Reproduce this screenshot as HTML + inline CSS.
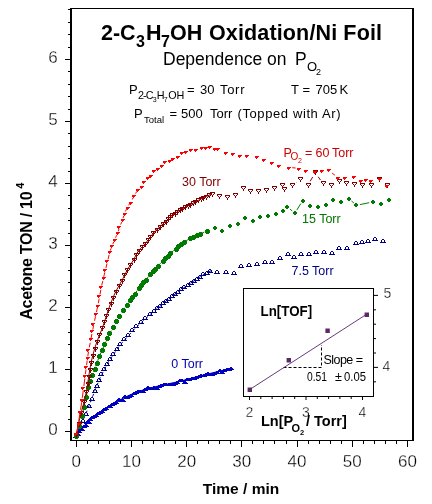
<!DOCTYPE html>
<html><head><meta charset="utf-8"><style>
html,body{margin:0;padding:0;background:#fff;width:432px;height:504px;overflow:hidden}
svg{display:block;will-change:transform}
text{font-family:"Liberation Sans",sans-serif}
</style></head><body>
<svg width="432" height="504" viewBox="0 0 432 504">
<rect width="432" height="504" fill="#fff"/>
<path d="M76.3 435.5 L83.4 427.0 L90.1 420.1 L96.8 414.6 L103.8 409.8 L110.7 405.3 L117.8 401.0 L125.6 397.0 L134.2 393.2 L143.8 389.9 L154.2 387.1 L165.3 384.6 L176.7 382.1 L188.6 379.2 L201.7 375.7 L216.2 372.0 L231.9 368.4" fill="none" stroke="#0000c0" stroke-width="1.2"/>
<path d="M75 435h6v1h-6zM76 434h4v1h-4zM77 433h2v1h-2zM76 432h6v1h-6zM77 431h4v1h-4zM78 430h2v1h-2zM78 430h6v1h-6zM79 429h4v1h-4zM80 428h2v1h-2zM79 430h6v1h-6zM80 429h4v1h-4zM81 428h2v1h-2zM81 427h6v1h-6zM82 426h4v1h-4zM83 425h2v1h-2zM83 426h6v1h-6zM84 425h4v1h-4zM85 424h2v1h-2zM84 423h6v1h-6zM85 422h4v1h-4zM86 421h2v1h-2zM86 423h6v1h-6zM87 422h4v1h-4zM88 421h2v1h-2zM87 420h6v1h-6zM88 419h4v1h-4zM89 418h2v1h-2zM89 418h6v1h-6zM90 417h4v1h-4zM91 416h2v1h-2zM91 417h6v1h-6zM92 416h4v1h-4zM93 415h2v1h-2zM93 416h6v1h-6zM94 415h4v1h-4zM95 414h2v1h-2zM95 414h6v1h-6zM96 413h4v1h-4zM97 412h2v1h-2zM97 413h6v1h-6zM98 412h4v1h-4zM99 411h2v1h-2zM99 412h6v1h-6zM100 411h4v1h-4zM101 410h2v1h-2zM101 410h6v1h-6zM102 409h4v1h-4zM103 408h2v1h-2zM103 409h6v1h-6zM104 408h4v1h-4zM105 407h2v1h-2zM106 407h6v1h-6zM107 406h4v1h-4zM108 405h2v1h-2zM107 407h6v1h-6zM108 406h4v1h-4zM109 405h2v1h-2zM109 405h6v1h-6zM110 404h4v1h-4zM111 403h2v1h-2zM111 404h6v1h-6zM112 403h4v1h-4zM113 402h2v1h-2zM113 403h6v1h-6zM114 402h4v1h-4zM115 401h2v1h-2zM116 400h6v1h-6zM117 399h4v1h-4zM118 398h2v1h-2zM118 401h6v1h-6zM119 400h4v1h-4zM120 399h2v1h-2zM120 401h6v1h-6zM121 400h4v1h-4zM122 399h2v1h-2zM122 397h6v1h-6zM123 396h4v1h-4zM124 395h2v1h-2zM124 398h6v1h-6zM125 397h4v1h-4zM126 396h2v1h-2zM126 397h6v1h-6zM127 396h4v1h-4zM128 395h2v1h-2zM128 396h6v1h-6zM129 395h4v1h-4zM130 394h2v1h-2zM131 394h6v1h-6zM132 393h4v1h-4zM133 392h2v1h-2zM133 393h6v1h-6zM134 392h4v1h-4zM135 391h2v1h-2zM135 392h6v1h-6zM136 391h4v1h-4zM137 390h2v1h-2zM137 392h6v1h-6zM138 391h4v1h-4zM139 390h2v1h-2zM140 392h6v1h-6zM141 391h4v1h-4zM142 390h2v1h-2zM142 390h6v1h-6zM143 389h4v1h-4zM144 388h2v1h-2zM145 388h6v1h-6zM146 387h4v1h-4zM147 386h2v1h-2zM147 389h6v1h-6zM148 388h4v1h-4zM149 387h2v1h-2zM149 389h6v1h-6zM150 388h4v1h-4zM151 387h2v1h-2zM151 388h6v1h-6zM152 387h4v1h-4zM153 386h2v1h-2zM154 389h6v1h-6zM155 388h4v1h-4zM156 387h2v1h-2zM156 387h6v1h-6zM157 386h4v1h-4zM158 385h2v1h-2zM158 386h6v1h-6zM159 385h4v1h-4zM160 384h2v1h-2zM161 385h6v1h-6zM162 384h4v1h-4zM163 383h2v1h-2zM163 385h6v1h-6zM164 384h4v1h-4zM165 383h2v1h-2zM166 385h6v1h-6zM167 384h4v1h-4zM168 383h2v1h-2zM168 385h6v1h-6zM169 384h4v1h-4zM170 383h2v1h-2zM170 385h6v1h-6zM171 384h4v1h-4zM172 383h2v1h-2zM172 384h6v1h-6zM173 383h4v1h-4zM174 382h2v1h-2zM174 383h6v1h-6zM175 382h4v1h-4zM176 381h2v1h-2zM177 381h6v1h-6zM178 380h4v1h-4zM179 379h2v1h-2zM179 381h6v1h-6zM180 380h4v1h-4zM181 379h2v1h-2zM182 383h6v1h-6zM183 382h4v1h-4zM184 381h2v1h-2zM184 380h6v1h-6zM185 379h4v1h-4zM186 378h2v1h-2zM186 380h6v1h-6zM187 379h4v1h-4zM188 378h2v1h-2zM189 379h6v1h-6zM190 378h4v1h-4zM191 377h2v1h-2zM191 379h6v1h-6zM192 378h4v1h-4zM193 377h2v1h-2zM193 378h6v1h-6zM194 377h4v1h-4zM195 376h2v1h-2zM196 377h6v1h-6zM197 376h4v1h-4zM198 375h2v1h-2zM198 376h6v1h-6zM199 375h4v1h-4zM200 374h2v1h-2zM201 376h6v1h-6zM202 375h4v1h-4zM203 374h2v1h-2zM203 375h6v1h-6zM204 374h4v1h-4zM205 373h2v1h-2zM205 374h6v1h-6zM206 373h4v1h-4zM207 372h2v1h-2zM207 375h6v1h-6zM208 374h4v1h-4zM209 373h2v1h-2zM209 375h6v1h-6zM210 374h4v1h-4zM211 373h2v1h-2zM211 374h6v1h-6zM212 373h4v1h-4zM213 372h2v1h-2zM214 373h6v1h-6zM215 372h4v1h-4zM216 371h2v1h-2zM217 371h6v1h-6zM218 370h4v1h-4zM219 369h2v1h-2zM219 373h6v1h-6zM220 372h4v1h-4zM221 371h2v1h-2zM221 371h6v1h-6zM222 370h4v1h-4zM223 369h2v1h-2zM224 370h6v1h-6zM225 369h4v1h-4zM226 368h2v1h-2zM226 370h6v1h-6zM227 369h4v1h-4zM228 368h2v1h-2zM228 369h6v1h-6zM229 368h4v1h-4zM230 367h2v1h-2z" fill="#0000c0" shape-rendering="crispEdges"/>
<path d="M76.3 435.5 L82.3 421.9 L86.5 412.2 L88.9 405.9 L90.9 400.9 L93.0 395.5 L95.9 387.9 L100.7 376.4 L108.7 361.3 L120.4 344.5 L135.4 327.9 L152.1 312.7 L167.5 300.1 L179.2 291.0 L188.1 284.8 L195.7 279.8 L202.0 275.5 L207.1 272.5 L211.6 270.5" fill="none" stroke="#000080" stroke-width="1" stroke-dasharray="3 3"/>
<path d="M75 434h2v1h-2zM74 435h1v2h-1zM77 435h1v2h-1zM73 437h6v1h-6zM79 426h2v1h-2zM78 427h1v2h-1zM81 427h1v2h-1zM77 429h6v1h-6zM82 419h2v1h-2zM81 420h1v2h-1zM84 420h1v2h-1zM80 422h6v1h-6zM85 412h2v1h-2zM84 413h1v2h-1zM87 413h1v2h-1zM83 415h6v1h-6zM88 404h2v1h-2zM87 405h1v2h-1zM90 405h1v2h-1zM86 407h6v1h-6zM91 397h2v1h-2zM90 398h1v2h-1zM93 398h1v2h-1zM89 400h6v1h-6zM94 389h2v1h-2zM93 390h1v2h-1zM96 390h1v2h-1zM92 392h6v1h-6zM96 384h2v1h-2zM95 385h1v2h-1zM98 385h1v2h-1zM94 387h6v1h-6zM98 378h2v1h-2zM97 379h1v2h-1zM100 379h1v2h-1zM96 381h6v1h-6zM100 372h2v1h-2zM99 373h1v2h-1zM102 373h1v2h-1zM98 375h6v1h-6zM103 367h2v1h-2zM102 368h1v2h-1zM105 368h1v2h-1zM101 370h6v1h-6zM106 362h2v1h-2zM105 363h1v2h-1zM108 363h1v2h-1zM104 365h6v1h-6zM109 357h2v1h-2zM108 358h1v2h-1zM111 358h1v2h-1zM107 360h6v1h-6zM112 352h2v1h-2zM111 353h1v2h-1zM114 353h1v2h-1zM110 355h6v1h-6zM116 347h2v1h-2zM115 348h1v2h-1zM118 348h1v2h-1zM114 350h6v1h-6zM119 342h2v1h-2zM118 343h1v2h-1zM121 343h1v2h-1zM117 345h6v1h-6zM123 337h2v1h-2zM122 338h1v2h-1zM125 338h1v2h-1zM121 340h6v1h-6zM127 333h2v1h-2zM126 334h1v2h-1zM129 334h1v2h-1zM125 336h6v1h-6zM131 328h2v1h-2zM130 329h1v2h-1zM133 329h1v2h-1zM129 331h6v1h-6zM135 324h2v1h-2zM134 325h1v2h-1zM137 325h1v2h-1zM133 327h6v1h-6zM140 320h2v1h-2zM139 321h1v2h-1zM142 321h1v2h-1zM138 323h6v1h-6zM144 316h2v1h-2zM143 317h1v2h-1zM146 317h1v2h-1zM142 319h6v1h-6zM149 312h2v1h-2zM148 313h1v2h-1zM151 313h1v2h-1zM147 315h6v1h-6zM153 309h2v1h-2zM152 310h1v2h-1zM155 310h1v2h-1zM151 312h6v1h-6zM156 306h2v1h-2zM155 307h1v2h-1zM158 307h1v2h-1zM154 309h6v1h-6zM159 304h2v1h-2zM158 305h1v2h-1zM161 305h1v2h-1zM157 307h6v1h-6zM162 301h2v1h-2zM161 302h1v2h-1zM164 302h1v2h-1zM160 304h6v1h-6zM165 299h2v1h-2zM164 300h1v2h-1zM167 300h1v2h-1zM163 302h6v1h-6zM168 297h2v1h-2zM167 298h1v2h-1zM170 298h1v2h-1zM166 300h6v1h-6zM171 294h2v1h-2zM170 295h1v2h-1zM173 295h1v2h-1zM169 297h6v1h-6zM174 292h2v1h-2zM173 293h1v2h-1zM176 293h1v2h-1zM172 295h6v1h-6zM177 290h2v1h-2zM176 291h1v2h-1zM179 291h1v2h-1zM175 293h6v1h-6zM180 287h2v1h-2zM179 288h1v2h-1zM182 288h1v2h-1zM178 290h6v1h-6zM183 285h2v1h-2zM182 286h1v2h-1zM185 286h1v2h-1zM181 288h6v1h-6zM187 283h2v1h-2zM186 284h1v2h-1zM189 284h1v2h-1zM185 286h6v1h-6zM190 281h2v1h-2zM189 282h1v2h-1zM192 282h1v2h-1zM188 284h6v1h-6zM193 279h2v1h-2zM192 280h1v2h-1zM195 280h1v2h-1zM191 282h6v1h-6zM196 277h2v1h-2zM195 278h1v2h-1zM198 278h1v2h-1zM194 280h6v1h-6zM199 275h2v1h-2zM198 276h1v2h-1zM201 276h1v2h-1zM197 278h6v1h-6zM202 272h2v1h-2zM201 273h1v2h-1zM204 273h1v2h-1zM200 275h6v1h-6zM206 271h2v1h-2zM205 272h1v2h-1zM208 272h1v2h-1zM204 274h6v1h-6zM209 269h2v1h-2zM208 270h1v2h-1zM211 270h1v2h-1zM207 272h6v1h-6zM216 270h2v1h-2zM215 271h1v2h-1zM218 271h1v2h-1zM214 273h6v1h-6zM225 270h2v1h-2zM224 271h1v2h-1zM227 271h1v2h-1zM223 273h6v1h-6zM233 271h2v1h-2zM232 272h1v2h-1zM235 272h1v2h-1zM231 274h6v1h-6zM240 264h2v1h-2zM239 265h1v2h-1zM242 265h1v2h-1zM238 267h6v1h-6zM248 263h2v1h-2zM247 264h1v2h-1zM250 264h1v2h-1zM246 266h6v1h-6zM256 262h2v1h-2zM255 263h1v2h-1zM258 263h1v2h-1zM254 265h6v1h-6zM264 260h2v1h-2zM263 261h1v2h-1zM266 261h1v2h-1zM262 263h6v1h-6zM271 260h2v1h-2zM270 261h1v2h-1zM273 261h1v2h-1zM269 263h6v1h-6zM279 256h2v1h-2zM278 257h1v2h-1zM281 257h1v2h-1zM277 259h6v1h-6zM287 252h2v1h-2zM286 253h1v2h-1zM289 253h1v2h-1zM285 255h6v1h-6zM293 255h2v1h-2zM292 256h1v2h-1zM295 256h1v2h-1zM291 258h6v1h-6zM300 252h2v1h-2zM299 253h1v2h-1zM302 253h1v2h-1zM298 255h6v1h-6zM308 252h2v1h-2zM307 253h1v2h-1zM310 253h1v2h-1zM306 255h6v1h-6zM315 250h2v1h-2zM314 251h1v2h-1zM317 251h1v2h-1zM313 253h6v1h-6zM323 250h2v1h-2zM322 251h1v2h-1zM325 251h1v2h-1zM321 253h6v1h-6zM331 251h2v1h-2zM330 252h1v2h-1zM333 252h1v2h-1zM329 254h6v1h-6zM338 246h2v1h-2zM337 247h1v2h-1zM340 247h1v2h-1zM336 249h6v1h-6zM346 246h2v1h-2zM345 247h1v2h-1zM348 247h1v2h-1zM344 249h6v1h-6zM355 241h2v1h-2zM354 242h1v2h-1zM357 242h1v2h-1zM353 244h6v1h-6zM361 240h2v1h-2zM360 241h1v2h-1zM363 241h1v2h-1zM359 243h6v1h-6zM367 239h2v1h-2zM366 240h1v2h-1zM369 240h1v2h-1zM365 242h6v1h-6zM374 237h2v1h-2zM373 238h1v2h-1zM376 238h1v2h-1zM372 240h6v1h-6zM382 239h2v1h-2zM381 240h1v2h-1zM384 240h1v2h-1zM380 242h6v1h-6z" fill="#000080" shape-rendering="crispEdges"/>
<path d="M76.3 435.5 L80.5 420.8 L83.7 409.0 L85.7 399.4 L87.5 390.3 L90.1 381.2 L94.3 369.4 L100.9 352.6 L110.1 332.8 L120.6 314.1 L130.5 299.5 L139.1 288.1 L148.6 276.4 L160.0 263.8 L171.4 252.5 L181.1 244.2 L188.8 239.1 L195.2 236.0 L201.6 233.3 L208.9 230.0" fill="none" stroke="#008000" stroke-width="1" stroke-dasharray="3 3"/>
<path d="M289.9 209.1L292.2 210.9 M296.8 210.1L300.8 203.6 M351.5 201.0L353.9 203.0 M359.9 204.6L369.2 202.7" fill="none" stroke="#008000" stroke-width="1"/>
<path d="M75 434h3v1h-3zM74 435h5v3h-5zM75 438h3v1h-3zM78 424h3v1h-3zM77 425h5v3h-5zM78 428h3v1h-3zM81 414h3v1h-3zM80 415h5v3h-5zM81 418h3v1h-3zM83 405h3v1h-3zM82 406h5v3h-5zM83 409h3v1h-3zM85 395h3v1h-3zM84 396h5v3h-5zM85 399h3v1h-3zM87 385h3v1h-3zM86 386h5v3h-5zM87 389h3v1h-3zM89 379h3v1h-3zM88 380h5v3h-5zM89 383h3v1h-3zM91 373h3v1h-3zM90 374h5v3h-5zM91 377h3v1h-3zM94 367h3v1h-3zM93 368h5v3h-5zM94 371h3v1h-3zM96 361h3v1h-3zM95 362h5v3h-5zM96 365h3v1h-3zM98 354h3v1h-3zM97 355h5v3h-5zM98 358h3v1h-3zM101 348h3v1h-3zM100 349h5v3h-5zM101 352h3v1h-3zM103 342h3v1h-3zM102 343h5v3h-5zM103 346h3v1h-3zM106 336h3v1h-3zM105 337h5v3h-5zM106 340h3v1h-3zM108 331h3v1h-3zM107 332h5v3h-5zM108 335h3v1h-3zM112 325h3v1h-3zM111 326h5v3h-5zM112 329h3v1h-3zM115 319h3v1h-3zM114 320h5v3h-5zM115 323h3v1h-3zM118 314h3v1h-3zM117 315h5v3h-5zM118 318h3v1h-3zM122 308h3v1h-3zM121 309h5v3h-5zM122 312h3v1h-3zM126 303h3v1h-3zM125 304h5v3h-5zM126 307h3v1h-3zM129 298h3v1h-3zM128 299h5v3h-5zM129 302h3v1h-3zM131 295h3v1h-3zM130 296h5v3h-5zM131 299h3v1h-3zM134 292h3v1h-3zM133 293h5v3h-5zM134 296h3v1h-3zM138 286h3v1h-3zM137 287h5v3h-5zM138 290h3v1h-3zM140 283h3v1h-3zM139 284h5v3h-5zM140 287h3v1h-3zM142 280h3v1h-3zM141 281h5v3h-5zM142 284h3v1h-3zM145 278h3v1h-3zM144 279h5v3h-5zM145 282h3v1h-3zM149 272h3v1h-3zM148 273h5v3h-5zM149 276h3v1h-3zM152 269h3v1h-3zM151 270h5v3h-5zM152 273h3v1h-3zM154 267h3v1h-3zM153 268h5v3h-5zM154 271h3v1h-3zM157 264h3v1h-3zM156 265h5v3h-5zM157 268h3v1h-3zM162 259h3v1h-3zM161 260h5v3h-5zM162 263h3v1h-3zM164 256h3v1h-3zM163 257h5v3h-5zM164 260h3v1h-3zM167 254h3v1h-3zM166 255h5v3h-5zM167 258h3v1h-3zM169 251h3v1h-3zM168 252h5v3h-5zM169 255h3v1h-3zM175 247h3v1h-3zM174 248h5v3h-5zM175 251h3v1h-3zM177 244h3v1h-3zM176 245h5v3h-5zM177 248h3v1h-3zM180 242h3v1h-3zM179 243h5v3h-5zM180 246h3v1h-3zM183 240h3v1h-3zM182 241h5v3h-5zM183 244h3v1h-3zM189 236h3v1h-3zM188 237h5v3h-5zM189 240h3v1h-3zM192 235h3v1h-3zM191 236h5v3h-5zM192 239h3v1h-3zM196 233h3v1h-3zM195 234h5v3h-5zM196 237h3v1h-3zM199 232h3v1h-3zM198 233h5v3h-5zM199 236h3v1h-3zM206 229h3v1h-3zM205 230h5v3h-5zM206 233h3v1h-3zM214 226h2v1h-2zM213 227h4v2h-4zM214 229h2v1h-2zM221 229h2v1h-2zM220 230h4v2h-4zM221 232h2v1h-2zM229 224h2v1h-2zM228 225h4v2h-4zM229 227h2v1h-2zM237 222h2v1h-2zM236 223h4v2h-4zM237 225h2v1h-2zM244 216h2v1h-2zM243 217h4v2h-4zM244 219h2v1h-2zM252 219h2v1h-2zM251 220h4v2h-4zM252 222h2v1h-2zM259 215h2v1h-2zM258 216h4v2h-4zM259 218h2v1h-2zM267 214h2v1h-2zM266 215h4v2h-4zM267 217h2v1h-2zM275 212h2v1h-2zM274 213h4v2h-4zM275 215h2v1h-2zM282 209h2v1h-2zM281 210h4v2h-4zM282 212h2v1h-2zM286 205h2v1h-2zM285 206h4v2h-4zM286 208h2v1h-2zM294 211h2v1h-2zM293 212h4v2h-4zM294 214h2v1h-2zM302 199h2v1h-2zM301 200h4v2h-4zM302 202h2v1h-2zM309 204h2v1h-2zM308 205h4v2h-4zM309 207h2v1h-2zM317 205h2v1h-2zM316 206h4v2h-4zM317 208h2v1h-2zM325 203h2v1h-2zM324 204h4v2h-4zM325 206h2v1h-2zM332 198h2v1h-2zM331 199h4v2h-4zM332 201h2v1h-2zM340 200h2v1h-2zM339 201h4v2h-4zM340 203h2v1h-2zM348 197h2v1h-2zM347 198h4v2h-4zM348 200h2v1h-2zM355 203h2v1h-2zM354 204h4v2h-4zM355 206h2v1h-2zM372 200h2v1h-2zM371 201h4v2h-4zM372 203h2v1h-2zM380 202h2v1h-2zM379 203h4v2h-4zM380 205h2v1h-2zM388 198h2v1h-2zM387 199h4v2h-4zM388 201h2v1h-2z" fill="#007a00" shape-rendering="crispEdges"/>
<path d="M76.3 434.5 L78.5 423.7 L81.0 413.0 L84.0 402.4 L86.4 391.7 L87.5 384.5 L88.6 377.3 L89.7 370.1 L91.0 362.9 L92.7 355.8 L94.6 348.7 L96.9 341.8 L99.5 335.0 L102.3 328.2 L104.4 322.1 L106.4 315.9 L108.4 309.7 L110.6 303.6 L113.0 297.6 L115.7 291.6 L118.8 286.0 L121.8 280.7 L124.5 275.4 L127.2 270.1 L130.3 264.9 L133.6 259.9 L136.2 254.5 L138.7 250.6 L141.8 247.3 L144.9 243.9 L147.9 240.4 L150.5 236.6 L153.4 233.1 L156.7 229.9 L159.9 226.6 L163.4 223.6 L165.6 221.5 L167.8 219.4 L169.9 217.3 L172.2 215.4 L174.6 213.6 L177.0 211.9 L179.6 210.3 L182.2 208.9 L184.9 207.5 L187.5 206.1 L190.2 204.7 L192.8 203.3 L195.5 201.9 L198.1 200.5 L200.8 199.0 L203.5 197.8 L206.2 196.5 L208.9 195.3 L211.5 193.8 M296.1 182.7L296.4 182.6 M310.2 181.2L312.7 177.0 M318.2 176.8L320.5 180.1" fill="none" stroke="#800000" stroke-width="1"/>
<path d="M74 433h5v1h-5zM74 434h1v1h-1zM78 434h1v1h-1zM75 435h1v1h-1zM77 435h1v1h-1zM76 436h1v2h-1zM76 434h1v2h-1zM77 422h5v1h-5zM77 423h1v1h-1zM81 423h1v1h-1zM78 424h1v1h-1zM80 424h1v1h-1zM79 425h1v2h-1zM79 423h1v2h-1zM79 411h5v1h-5zM79 412h1v1h-1zM83 412h1v1h-1zM80 413h1v1h-1zM82 413h1v1h-1zM81 414h1v2h-1zM81 412h1v2h-1zM82 400h5v1h-5zM82 401h1v1h-1zM86 401h1v1h-1zM83 402h1v1h-1zM85 402h1v1h-1zM84 403h1v2h-1zM84 401h1v2h-1zM84 390h5v1h-5zM84 391h1v1h-1zM88 391h1v1h-1zM85 392h1v1h-1zM87 392h1v1h-1zM86 393h1v2h-1zM86 391h1v2h-1zM86 382h5v1h-5zM86 383h1v1h-1zM90 383h1v1h-1zM87 384h1v1h-1zM89 384h1v1h-1zM88 385h1v2h-1zM88 383h1v2h-1zM87 375h5v1h-5zM87 376h1v1h-1zM91 376h1v1h-1zM88 377h1v1h-1zM90 377h1v1h-1zM89 378h1v2h-1zM89 376h1v2h-1zM88 368h5v1h-5zM88 369h1v1h-1zM92 369h1v1h-1zM89 370h1v1h-1zM91 370h1v1h-1zM90 371h1v2h-1zM90 369h1v2h-1zM89 361h5v1h-5zM89 362h1v1h-1zM93 362h1v1h-1zM90 363h1v1h-1zM92 363h1v1h-1zM91 364h1v2h-1zM91 362h1v2h-1zM91 354h5v1h-5zM91 355h1v1h-1zM95 355h1v1h-1zM92 356h1v1h-1zM94 356h1v1h-1zM93 357h1v2h-1zM93 355h1v2h-1zM93 347h5v1h-5zM93 348h1v1h-1zM97 348h1v1h-1zM94 349h1v1h-1zM96 349h1v1h-1zM95 350h1v2h-1zM95 348h1v2h-1zM95 340h5v1h-5zM95 341h1v1h-1zM99 341h1v1h-1zM96 342h1v1h-1zM98 342h1v1h-1zM97 343h1v2h-1zM97 341h1v2h-1zM97 333h5v1h-5zM97 334h1v1h-1zM101 334h1v1h-1zM98 335h1v1h-1zM100 335h1v1h-1zM99 336h1v2h-1zM99 334h1v2h-1zM100 326h5v1h-5zM100 327h1v1h-1zM104 327h1v1h-1zM101 328h1v1h-1zM103 328h1v1h-1zM102 329h1v2h-1zM102 327h1v2h-1zM102 320h5v1h-5zM102 321h1v1h-1zM106 321h1v1h-1zM103 322h1v1h-1zM105 322h1v1h-1zM104 323h1v2h-1zM104 321h1v2h-1zM104 314h5v1h-5zM104 315h1v1h-1zM108 315h1v1h-1zM105 316h1v1h-1zM107 316h1v1h-1zM106 317h1v2h-1zM106 315h1v2h-1zM106 308h5v1h-5zM106 309h1v1h-1zM110 309h1v1h-1zM107 310h1v1h-1zM109 310h1v1h-1zM108 311h1v2h-1zM108 309h1v2h-1zM109 302h5v1h-5zM109 303h1v1h-1zM113 303h1v1h-1zM110 304h1v1h-1zM112 304h1v1h-1zM111 305h1v2h-1zM111 303h1v2h-1zM111 296h5v1h-5zM111 297h1v1h-1zM115 297h1v1h-1zM112 298h1v1h-1zM114 298h1v1h-1zM113 299h1v2h-1zM113 297h1v2h-1zM114 290h5v1h-5zM114 291h1v1h-1zM118 291h1v1h-1zM115 292h1v1h-1zM117 292h1v1h-1zM116 293h1v2h-1zM116 291h1v2h-1zM117 284h5v1h-5zM117 285h1v1h-1zM121 285h1v1h-1zM118 286h1v1h-1zM120 286h1v1h-1zM119 287h1v2h-1zM119 285h1v2h-1zM120 279h5v1h-5zM120 280h1v1h-1zM124 280h1v1h-1zM121 281h1v1h-1zM123 281h1v1h-1zM122 282h1v2h-1zM122 280h1v2h-1zM122 273h5v1h-5zM122 274h1v1h-1zM126 274h1v1h-1zM123 275h1v1h-1zM125 275h1v1h-1zM124 276h1v2h-1zM124 274h1v2h-1zM125 268h5v1h-5zM125 269h1v1h-1zM129 269h1v1h-1zM126 270h1v1h-1zM128 270h1v1h-1zM127 271h1v2h-1zM127 269h1v2h-1zM128 263h5v1h-5zM128 264h1v1h-1zM132 264h1v1h-1zM129 265h1v1h-1zM131 265h1v1h-1zM130 266h1v2h-1zM130 264h1v2h-1zM132 258h5v1h-5zM132 259h1v1h-1zM136 259h1v1h-1zM133 260h1v1h-1zM135 260h1v1h-1zM134 261h1v2h-1zM134 259h1v2h-1zM134 253h5v1h-5zM134 254h1v1h-1zM138 254h1v1h-1zM135 255h1v1h-1zM137 255h1v1h-1zM136 256h1v2h-1zM136 254h1v2h-1zM137 249h5v1h-5zM137 250h1v1h-1zM141 250h1v1h-1zM138 251h1v1h-1zM140 251h1v1h-1zM139 252h1v2h-1zM139 250h1v2h-1zM140 245h5v1h-5zM140 246h1v1h-1zM144 246h1v1h-1zM141 247h1v1h-1zM143 247h1v1h-1zM142 248h1v2h-1zM142 246h1v2h-1zM143 242h5v1h-5zM143 243h1v1h-1zM147 243h1v1h-1zM144 244h1v1h-1zM146 244h1v1h-1zM145 245h1v2h-1zM145 243h1v2h-1zM146 238h5v1h-5zM146 239h1v1h-1zM150 239h1v1h-1zM147 240h1v1h-1zM149 240h1v1h-1zM148 241h1v2h-1zM148 239h1v2h-1zM148 235h5v1h-5zM148 236h1v1h-1zM152 236h1v1h-1zM149 237h1v1h-1zM151 237h1v1h-1zM150 238h1v2h-1zM150 236h1v2h-1zM151 231h5v1h-5zM151 232h1v1h-1zM155 232h1v1h-1zM152 233h1v1h-1zM154 233h1v1h-1zM153 234h1v2h-1zM153 232h1v2h-1zM155 228h5v1h-5zM155 229h1v1h-1zM159 229h1v1h-1zM156 230h1v1h-1zM158 230h1v1h-1zM157 231h1v2h-1zM157 229h1v2h-1zM158 225h5v1h-5zM158 226h1v1h-1zM162 226h1v1h-1zM159 227h1v1h-1zM161 227h1v1h-1zM160 228h1v2h-1zM160 226h1v2h-1zM161 222h5v1h-5zM161 223h1v1h-1zM165 223h1v1h-1zM162 224h1v1h-1zM164 224h1v1h-1zM163 225h1v2h-1zM163 223h1v2h-1zM164 220h5v1h-5zM164 221h1v1h-1zM168 221h1v1h-1zM165 222h1v1h-1zM167 222h1v1h-1zM166 223h1v2h-1zM166 221h1v2h-1zM166 217h5v1h-5zM166 218h1v1h-1zM170 218h1v1h-1zM167 219h1v1h-1zM169 219h1v1h-1zM168 220h1v2h-1zM168 218h1v2h-1zM168 215h5v1h-5zM168 216h1v1h-1zM172 216h1v1h-1zM169 217h1v1h-1zM171 217h1v1h-1zM170 218h1v2h-1zM170 216h1v2h-1zM170 213h5v1h-5zM170 214h1v1h-1zM174 214h1v1h-1zM171 215h1v1h-1zM173 215h1v1h-1zM172 216h1v2h-1zM172 214h1v2h-1zM173 212h5v1h-5zM173 213h1v1h-1zM177 213h1v1h-1zM174 214h1v1h-1zM176 214h1v1h-1zM175 215h1v2h-1zM175 213h1v2h-1zM175 210h5v1h-5zM175 211h1v1h-1zM179 211h1v1h-1zM176 212h1v1h-1zM178 212h1v1h-1zM177 213h1v2h-1zM177 211h1v2h-1zM178 208h5v1h-5zM178 209h1v1h-1zM182 209h1v1h-1zM179 210h1v1h-1zM181 210h1v1h-1zM180 211h1v2h-1zM180 209h1v2h-1zM180 207h5v1h-5zM180 208h1v1h-1zM184 208h1v1h-1zM181 209h1v1h-1zM183 209h1v1h-1zM182 210h1v2h-1zM182 208h1v2h-1zM183 205h5v1h-5zM183 206h1v1h-1zM187 206h1v1h-1zM184 207h1v1h-1zM186 207h1v1h-1zM185 208h1v2h-1zM185 206h1v2h-1zM186 204h5v1h-5zM186 205h1v1h-1zM190 205h1v1h-1zM187 206h1v1h-1zM189 206h1v1h-1zM188 207h1v2h-1zM188 203h5v1h-5zM188 204h1v1h-1zM192 204h1v1h-1zM189 205h1v1h-1zM191 205h1v1h-1zM190 206h1v2h-1zM191 201h5v1h-5zM191 202h1v1h-1zM195 202h1v1h-1zM192 203h1v1h-1zM194 203h1v1h-1zM193 204h1v2h-1zM193 200h5v1h-5zM193 201h1v1h-1zM197 201h1v1h-1zM194 202h1v1h-1zM196 202h1v1h-1zM195 203h1v2h-1zM196 198h5v1h-5zM196 199h1v1h-1zM200 199h1v1h-1zM197 200h1v1h-1zM199 200h1v1h-1zM198 201h1v2h-1zM199 197h5v1h-5zM199 198h1v1h-1zM203 198h1v1h-1zM200 199h1v1h-1zM202 199h1v1h-1zM201 200h1v2h-1zM201 196h5v1h-5zM201 197h1v1h-1zM205 197h1v1h-1zM202 198h1v1h-1zM204 198h1v1h-1zM203 199h1v2h-1zM204 195h5v1h-5zM204 196h1v1h-1zM208 196h1v1h-1zM205 197h1v1h-1zM207 197h1v1h-1zM206 198h1v2h-1zM207 193h5v1h-5zM207 194h1v1h-1zM211 194h1v1h-1zM208 195h1v1h-1zM210 195h1v1h-1zM209 196h1v2h-1zM210 192h5v1h-5zM210 193h1v1h-1zM214 193h1v1h-1zM211 194h1v1h-1zM213 194h1v1h-1zM212 195h1v2h-1zM217 194h5v1h-5zM217 195h1v1h-1zM221 195h1v1h-1zM218 196h1v1h-1zM220 196h1v1h-1zM219 197h1v2h-1zM225 195h5v1h-5zM225 196h1v1h-1zM229 196h1v1h-1zM226 197h1v1h-1zM228 197h1v1h-1zM227 198h1v2h-1zM233 193h5v1h-5zM233 194h1v1h-1zM237 194h1v1h-1zM234 195h1v1h-1zM236 195h1v1h-1zM235 196h1v2h-1zM241 186h5v1h-5zM241 187h1v1h-1zM245 187h1v1h-1zM242 188h1v1h-1zM244 188h1v1h-1zM243 189h1v2h-1zM248 189h5v1h-5zM248 190h1v1h-1zM252 190h1v1h-1zM249 191h1v1h-1zM251 191h1v1h-1zM250 192h1v2h-1zM256 189h5v1h-5zM256 190h1v1h-1zM260 190h1v1h-1zM257 191h1v1h-1zM259 191h1v1h-1zM258 192h1v2h-1zM264 188h5v1h-5zM264 189h1v1h-1zM268 189h1v1h-1zM265 190h1v1h-1zM267 190h1v1h-1zM266 191h1v2h-1zM272 186h5v1h-5zM272 187h1v1h-1zM276 187h1v1h-1zM273 188h1v1h-1zM275 188h1v1h-1zM274 189h1v2h-1zM280 183h5v1h-5zM280 184h1v1h-1zM284 184h1v1h-1zM281 185h1v1h-1zM283 185h1v1h-1zM282 186h1v2h-1zM282 187h5v1h-5zM282 188h1v1h-1zM286 188h1v1h-1zM283 189h1v1h-1zM285 189h1v1h-1zM284 190h1v2h-1zM290 183h5v1h-5zM290 184h1v1h-1zM294 184h1v1h-1zM291 185h1v1h-1zM293 185h1v1h-1zM292 186h1v2h-1zM298 177h5v1h-5zM298 178h1v1h-1zM302 178h1v1h-1zM299 179h1v1h-1zM301 179h1v1h-1zM300 180h1v2h-1zM306 183h5v1h-5zM306 184h1v1h-1zM310 184h1v1h-1zM307 185h1v1h-1zM309 185h1v1h-1zM308 186h1v2h-1zM313 170h5v1h-5zM313 171h1v1h-1zM317 171h1v1h-1zM314 172h1v1h-1zM316 172h1v1h-1zM315 173h1v2h-1zM321 181h5v1h-5zM321 182h1v1h-1zM325 182h1v1h-1zM322 183h1v1h-1zM324 183h1v1h-1zM323 184h1v2h-1zM329 183h5v1h-5zM329 184h1v1h-1zM333 184h1v1h-1zM330 185h1v1h-1zM332 185h1v1h-1zM331 186h1v2h-1zM337 179h5v1h-5zM337 180h1v1h-1zM341 180h1v1h-1zM338 181h1v1h-1zM340 181h1v1h-1zM339 182h1v2h-1zM344 181h5v1h-5zM344 182h1v1h-1zM348 182h1v1h-1zM345 183h1v1h-1zM347 183h1v1h-1zM346 184h1v2h-1zM352 182h5v1h-5zM352 183h1v1h-1zM356 183h1v1h-1zM353 184h1v1h-1zM355 184h1v1h-1zM354 185h1v2h-1zM360 183h5v1h-5zM360 184h1v1h-1zM364 184h1v1h-1zM361 185h1v1h-1zM363 185h1v1h-1zM362 186h1v2h-1zM369 183h5v1h-5zM369 184h1v1h-1zM373 184h1v1h-1zM370 185h1v1h-1zM372 185h1v1h-1zM371 186h1v2h-1zM377 177h5v1h-5zM377 178h1v1h-1zM381 178h1v1h-1zM378 179h1v1h-1zM380 179h1v1h-1zM379 180h1v2h-1zM385 183h5v1h-5zM385 184h1v1h-1zM389 184h1v1h-1zM386 185h1v1h-1zM388 185h1v1h-1zM387 186h1v2h-1z" fill="#800000" shape-rendering="crispEdges"/>
<path d="M76.7 433.3L78.0 425.9 M78.7 421.5L79.8 414.0 M80.5 409.7L81.7 402.2 M82.3 397.8L83.3 390.3 M83.9 385.9L84.8 378.4 M85.4 374.0L86.0 369.4 M86.6 365.1L87.2 360.5 M87.8 356.2L88.5 351.6 M89.3 347.3L90.2 342.8 M91.0 338.5L91.9 334.0 M92.8 329.6L93.7 325.1 M94.6 320.8L95.5 316.3 M96.5 312.0L97.4 307.5 M98.3 303.2L99.2 298.7 M100.0 294.4L100.8 289.8 M101.7 285.5L102.7 281.1 M103.7 276.8L104.8 272.3 M105.9 268.0L107.0 263.6 M108.0 259.3L109.1 254.8 M110.3 250.6L111.1 248.2 M112.8 244.1L113.8 241.7 M115.6 237.7L116.6 235.3 M118.2 231.2L119.1 228.8 M120.7 224.6L121.6 222.2 M123.0 218.1L123.9 215.6 M125.4 211.5L126.5 209.1 M128.6 205.3L129.9 203.2 M132.2 199.5L133.4 197.3 M135.6 193.5L136.8 191.4" fill="none" stroke="#ff0000" stroke-width="1"/>
<path d="M292.2 167.7L295.6 168.0 M332.1 173.1L334.9 175.2" fill="none" stroke="#ff0000" stroke-width="1"/>
<path d="M74 433h4v1h-4zM74 434h3v1h-3zM75 435h1v1h-1zM77 423h4v1h-4zM77 424h3v1h-3zM78 425h1v1h-1zM78 411h4v1h-4zM78 412h3v1h-3zM79 413h1v1h-1zM80 399h4v1h-4zM80 400h3v1h-3zM81 401h1v1h-1zM81 387h4v1h-4zM81 388h3v1h-3zM82 389h1v1h-1zM83 375h4v1h-4zM83 376h3v1h-3zM84 377h1v1h-1zM84 366h4v1h-4zM84 367h3v1h-3zM85 368h1v1h-1zM86 357h4v1h-4zM86 358h3v1h-3zM87 359h1v1h-1zM86 349h4v1h-4zM86 350h3v1h-3zM87 351h1v1h-1zM89 338h4v1h-4zM89 339h3v1h-3zM90 340h1v1h-1zM90 330h4v1h-4zM90 331h3v1h-3zM91 332h1v1h-1zM91 323h4v1h-4zM91 324h3v1h-3zM92 325h1v1h-1zM94 313h4v1h-4zM94 314h3v1h-3zM95 315h1v1h-1zM96 305h4v1h-4zM96 306h3v1h-3zM97 307h1v1h-1zM97 295h4v1h-4zM97 296h3v1h-3zM98 297h1v1h-1zM99 286h4v1h-4zM99 287h3v1h-3zM100 288h1v1h-1zM102 277h4v1h-4zM102 278h3v1h-3zM103 279h1v1h-1zM103 269h4v1h-4zM103 270h3v1h-3zM104 271h1v1h-1zM105 260h4v1h-4zM105 261h3v1h-3zM106 262h1v1h-1zM108 251h4v1h-4zM108 252h3v1h-3zM109 253h1v1h-1zM110 245h4v1h-4zM110 246h3v1h-3zM111 247h1v1h-1zM113 239h4v1h-4zM113 240h3v1h-3zM114 241h1v1h-1zM116 232h4v1h-4zM116 233h3v1h-3zM117 234h1v1h-1zM117 226h4v1h-4zM117 227h3v1h-3zM118 228h1v1h-1zM121 219h4v1h-4zM121 220h3v1h-3zM122 221h1v1h-1zM123 213h4v1h-4zM123 214h3v1h-3zM124 215h1v1h-1zM126 207h4v1h-4zM126 208h3v1h-3zM127 209h1v1h-1zM129 202h4v1h-4zM129 203h3v1h-3zM130 204h1v1h-1zM132 195h4v1h-4zM132 196h3v1h-3zM133 197h1v1h-1zM136 189h4v1h-4zM136 190h3v1h-3zM137 191h1v1h-1zM140 186h4v1h-4zM140 187h3v1h-3zM141 188h1v1h-1zM142 181h4v1h-4zM142 182h3v1h-3zM143 183h1v1h-1zM146 177h4v1h-4zM146 178h3v1h-3zM147 179h1v1h-1zM149 175h4v1h-4zM149 176h3v1h-3zM150 177h1v1h-1zM152 170h4v1h-4zM152 171h3v1h-3zM153 172h1v1h-1zM156 168h4v1h-4zM156 169h3v1h-3zM157 170h1v1h-1zM160 165h4v1h-4zM160 166h3v1h-3zM161 167h1v1h-1zM163 161h4v1h-4zM163 162h3v1h-3zM164 163h1v1h-1zM168 160h4v1h-4zM168 161h3v1h-3zM169 162h1v1h-1zM171 158h4v1h-4zM171 159h3v1h-3zM172 160h1v1h-1zM176 156h4v1h-4zM176 157h3v1h-3zM177 158h1v1h-1zM180 152h4v1h-4zM180 153h3v1h-3zM181 154h1v1h-1zM184 151h4v1h-4zM184 152h3v1h-3zM185 153h1v1h-1zM189 149h4v1h-4zM189 150h3v1h-3zM190 151h1v1h-1zM194 149h4v1h-4zM194 150h3v1h-3zM195 151h1v1h-1zM200 147h4v1h-4zM200 148h3v1h-3zM201 149h1v1h-1zM204 147h4v1h-4zM204 148h3v1h-3zM205 149h1v1h-1zM208 146h4v1h-4zM208 147h3v1h-3zM209 148h1v1h-1zM213 148h4v1h-4zM213 149h3v1h-3zM214 150h1v1h-1zM216 148h4v1h-4zM216 149h3v1h-3zM217 150h1v1h-1zM224 152h4v1h-4zM224 153h3v1h-3zM225 154h1v1h-1zM231 153h4v1h-4zM231 154h3v1h-3zM232 155h1v1h-1zM238 155h4v1h-4zM238 156h3v1h-3zM239 157h1v1h-1zM245 155h4v1h-4zM245 156h3v1h-3zM246 157h1v1h-1zM255 156h4v1h-4zM255 157h3v1h-3zM256 158h1v1h-1zM262 159h4v1h-4zM262 160h3v1h-3zM263 161h1v1h-1zM270 162h4v1h-4zM270 163h3v1h-3zM271 164h1v1h-1zM277 165h4v1h-4zM277 166h3v1h-3zM278 167h1v1h-1zM287 167h4v1h-4zM287 168h3v1h-3zM288 169h1v1h-1zM297 168h4v1h-4zM297 169h3v1h-3zM298 170h1v1h-1zM304 170h4v1h-4zM304 171h3v1h-3zM305 172h1v1h-1zM313 171h4v1h-4zM313 172h3v1h-3zM314 173h1v1h-1zM320 170h4v1h-4zM320 171h3v1h-3zM321 172h1v1h-1zM327 169h4v1h-4zM327 170h3v1h-3zM328 171h1v1h-1zM336 177h4v1h-4zM336 178h3v1h-3zM337 179h1v1h-1zM343 177h4v1h-4zM343 178h3v1h-3zM344 179h1v1h-1zM352 176h4v1h-4zM352 177h3v1h-3zM353 178h1v1h-1zM359 180h4v1h-4zM359 181h3v1h-3zM360 182h1v1h-1zM364 179h4v1h-4zM364 180h3v1h-3zM365 181h1v1h-1zM369 180h4v1h-4zM369 181h3v1h-3zM370 182h1v1h-1zM378 178h4v1h-4zM378 179h3v1h-3zM379 180h1v1h-1zM385 185h4v1h-4zM385 186h3v1h-3zM386 187h1v1h-1z" fill="#ff0000" shape-rendering="crispEdges"/>
<path d="M70 8.5H413 M412.5 8V441 M70 440.4H413.5" fill="none" stroke="#000" stroke-width="1" shape-rendering="crispEdges"/>
<path d="M71 8V441 M412.75 8V441" fill="none" stroke="#000" stroke-width="2" shape-rendering="crispEdges"/>
<path d="M65 431.5H70 M68 419.1H70 M68 406.7H70 M68 394.3H70 M68 381.9H70 M65 369.5H70 M68 357.1H70 M68 344.7H70 M68 332.3H70 M68 319.9H70 M65 307.5H70 M68 295.1H70 M68 282.7H70 M68 270.3H70 M68 257.9H70 M65 245.5H70 M68 233.1H70 M68 220.7H70 M68 208.3H70 M68 195.9H70 M65 183.5H70 M68 171.1H70 M68 158.7H70 M68 146.3H70 M68 133.9H70 M65 121.5H70 M68 109.1H70 M68 96.7H70 M68 84.3H70 M68 71.9H70 M65 59.5H70 M68 47.1H70 M68 34.7H70 M68 22.3H70 M68 9.9H70 M76.3 441V447 M87.3 441V444 M98.4 441V444 M109.4 441V444 M120.4 441V444 M131.5 441V447 M142.5 441V444 M153.6 441V444 M164.6 441V444 M175.6 441V444 M186.7 441V447 M197.7 441V444 M208.7 441V444 M219.8 441V444 M230.8 441V444 M241.8 441V447 M252.9 441V444 M263.9 441V444 M274.9 441V444 M286.0 441V444 M297.0 441V447 M308.1 441V444 M319.1 441V444 M330.1 441V444 M341.2 441V444 M352.2 441V447 M363.2 441V444 M374.3 441V444 M385.3 441V444 M396.3 441V444 M407.4 441V447" stroke="#000" stroke-width="1" fill="none" shape-rendering="crispEdges"/>
<text x="53" y="435.0" font-size="17" font-weight="normal" fill="#000" text-anchor="middle" stroke="#fff" stroke-width="0.3">0</text>
<text x="53" y="373.0" font-size="17" font-weight="normal" fill="#000" text-anchor="middle" stroke="#fff" stroke-width="0.3">1</text>
<text x="53" y="311.0" font-size="17" font-weight="normal" fill="#000" text-anchor="middle" stroke="#fff" stroke-width="0.3">2</text>
<text x="53" y="249.0" font-size="17" font-weight="normal" fill="#000" text-anchor="middle" stroke="#fff" stroke-width="0.3">3</text>
<text x="53" y="187.0" font-size="17" font-weight="normal" fill="#000" text-anchor="middle" stroke="#fff" stroke-width="0.3">4</text>
<text x="53" y="125.0" font-size="17" font-weight="normal" fill="#000" text-anchor="middle" stroke="#fff" stroke-width="0.3">5</text>
<text x="53" y="63.0" font-size="17" font-weight="normal" fill="#000" text-anchor="middle" stroke="#fff" stroke-width="0.3">6</text>
<text x="76.3" y="467" font-size="17" font-weight="normal" fill="#000" text-anchor="middle" stroke="#fff" stroke-width="0.3">0</text>
<text x="131.5" y="467" font-size="17" font-weight="normal" fill="#000" text-anchor="middle" stroke="#fff" stroke-width="0.3">10</text>
<text x="186.7" y="467" font-size="17" font-weight="normal" fill="#000" text-anchor="middle" stroke="#fff" stroke-width="0.3">20</text>
<text x="241.8" y="467" font-size="17" font-weight="normal" fill="#000" text-anchor="middle" stroke="#fff" stroke-width="0.3">30</text>
<text x="297.0" y="467" font-size="17" font-weight="normal" fill="#000" text-anchor="middle" stroke="#fff" stroke-width="0.3">40</text>
<text x="352.2" y="467" font-size="17" font-weight="normal" fill="#000" text-anchor="middle" stroke="#fff" stroke-width="0.3">50</text>
<text x="407.4" y="467" font-size="17" font-weight="normal" fill="#000" text-anchor="middle" stroke="#fff" stroke-width="0.3">60</text>
<text x="241" y="494" font-size="15.5" font-weight="bold" fill="#000" text-anchor="middle" >Time / min</text>
<g transform="translate(32,320) rotate(-90)"><text x="0.3" y="0" font-size="16" font-weight="bold" textLength="128.3" lengthAdjust="spacing">Acetone TON / 10</text><text x="131.3" y="-8.3" font-size="11" font-weight="bold">4</text></g>
<text x="101" y="39.5" font-size="21.5" font-weight="bold" fill="#000" text-anchor="start" >2-C</text>
<text x="136" y="46.5" font-size="16" font-weight="bold" fill="#000" text-anchor="start" >3</text>
<text x="146" y="39.5" font-size="21.5" font-weight="bold" fill="#000" text-anchor="start" >H</text>
<text x="161" y="46.5" font-size="16" font-weight="bold" fill="#000" text-anchor="start" >7</text>
<text x="170" y="39.5" font-size="21.5" font-weight="bold" fill="#000" text-anchor="start" >OH</text>
<text x="209" y="39.5" font-size="21.5" font-weight="bold" fill="#000" text-anchor="start" textLength="173" lengthAdjust="spacing">Oxidation/Ni Foil</text>
<text x="163" y="65.3" font-size="17.5" font-weight="normal" fill="#000" text-anchor="start" >Dependence on</text>
<text x="295" y="65" font-size="17.5" font-weight="normal" fill="#000" text-anchor="start" >P</text>
<text x="307" y="70.8" font-size="13" font-weight="normal" fill="#000" text-anchor="start" >O</text>
<text x="316" y="74.7" font-size="9" font-weight="normal" fill="#000" text-anchor="start" >2</text>
<text x="129" y="94" font-size="13" font-weight="normal" fill="#000" text-anchor="start" >P</text>
<text x="138" y="98.8" font-size="10.8" font-weight="normal" fill="#000" text-anchor="start" textLength="15.5" lengthAdjust="spacing">2-C</text>
<text x="152.8" y="102" font-size="7" font-weight="normal" fill="#000" text-anchor="start" >3</text>
<text x="156.8" y="98.8" font-size="10.8" font-weight="normal" fill="#000" text-anchor="start" >H</text>
<text x="163.8" y="102" font-size="7" font-weight="normal" fill="#000" text-anchor="start" >7</text>
<text x="168.2" y="98.8" font-size="10.8" font-weight="normal" fill="#000" text-anchor="start" >OH</text>
<text x="187" y="94" font-size="13" font-weight="normal" fill="#000" text-anchor="start" >=</text>
<text x="200" y="94" font-size="13" font-weight="normal" fill="#000" text-anchor="start" >30</text>
<text x="220" y="94" font-size="13" font-weight="normal" fill="#000" text-anchor="start" textLength="24.5" lengthAdjust="spacing">Torr</text>
<text x="291" y="94" font-size="13" font-weight="normal" fill="#000" text-anchor="start" >T</text>
<text x="302.5" y="94" font-size="13" font-weight="normal" fill="#000" text-anchor="start" >=</text>
<text x="315.5" y="94" font-size="13" font-weight="normal" fill="#000" text-anchor="start" >705</text>
<text x="339.5" y="94" font-size="13" font-weight="normal" fill="#000" text-anchor="start" >K</text>
<text x="134" y="118" font-size="13" font-weight="normal" fill="#000" text-anchor="start" >P</text>
<text x="144" y="122.8" font-size="9.5" font-weight="normal" fill="#000" text-anchor="start" >Total</text>
<text x="169.5" y="118" font-size="13" font-weight="normal" fill="#000" text-anchor="start" >=</text>
<text x="181" y="118" font-size="13" font-weight="normal" fill="#000" text-anchor="start" >500</text>
<text x="210" y="118" font-size="13" font-weight="normal" fill="#000" text-anchor="start" >Torr</text>
<text x="237.5" y="118" font-size="13" font-weight="normal" fill="#000" text-anchor="start" textLength="103" lengthAdjust="spacing">(Topped with Ar)</text>
<text x="283.5" y="156.8" font-size="12.5" font-weight="normal" fill="#cc0000" text-anchor="start" >P</text>
<text x="290.5" y="160.3" font-size="10" font-weight="normal" fill="#cc0000" text-anchor="start" >O</text>
<text x="298" y="163" font-size="7" font-weight="normal" fill="#cc0000" text-anchor="start" >2</text>
<text x="305" y="156.8" font-size="12.5" font-weight="normal" fill="#cc0000" text-anchor="start" >=</text>
<text x="315.5" y="156.8" font-size="12.5" font-weight="normal" fill="#cc0000" text-anchor="start" >60</text>
<text x="332" y="156.8" font-size="12.5" font-weight="normal" fill="#cc0000" text-anchor="start" >Torr</text>
<text x="182" y="185.6" font-size="12.5" font-weight="normal" fill="#800000" text-anchor="start" >30 Torr</text>
<text x="302" y="223.3" font-size="12.5" font-weight="normal" fill="#007700" text-anchor="start" >15 Torr</text>
<text x="291.5" y="274.8" font-size="12.5" font-weight="normal" fill="#000080" text-anchor="start" >7.5 Torr</text>
<text x="171.3" y="368" font-size="12.5" font-weight="normal" fill="#0000b0" text-anchor="start" >0 Torr</text>
<rect x="243.5" y="288.5" width="130" height="108" fill="#fff" stroke="#000" stroke-width="1"/>
<path d="M249.5 397V400 M260.8 397V399 M272.1 397V399 M283.4 397V399 M294.7 397V399 M306.0 397V400 M317.3 397V399 M328.6 397V399 M339.9 397V399 M351.2 397V399 M362.5 397V400 M374 381.8H376 M374 367.4H378 M374 353.0H376 M374 338.6H376 M374 324.2H376 M374 309.8H376 M374 295.4H378" stroke="#000" stroke-width="1" fill="none"/>
<text x="249.5" y="417" font-size="14" text-anchor="middle" stroke="#fff" stroke-width="0.3">2</text>
<text x="306.0" y="417" font-size="14" text-anchor="middle" stroke="#fff" stroke-width="0.3">3</text>
<text x="362.5" y="417" font-size="14" text-anchor="middle" stroke="#fff" stroke-width="0.3">4</text>
<text x="383.5" y="298.0" font-size="14" stroke="#fff" stroke-width="0.3">5</text>
<text x="382.5" y="370.6" font-size="14" stroke="#fff" stroke-width="0.3">4</text>
<text x="260.6" y="316.4" font-size="14.5" font-weight="bold" textLength="51.5" lengthAdjust="spacingAndGlyphs">Ln[TOF]</text>
<text x="261" y="426" font-size="14.5" font-weight="bold">Ln[P</text>
<text x="291.5" y="432.3" font-size="11" font-weight="bold">O</text>
<text x="300" y="435.3" font-size="7.5" font-weight="bold">2</text>
<text x="306" y="426" font-size="14.5" font-weight="bold">/ Torr]</text>
<text x="323.5" y="364" font-size="12.5" textLength="39.5" lengthAdjust="spacing">Slope =</text>
<text x="307" y="381.3" font-size="12.5" textLength="20" lengthAdjust="spacingAndGlyphs">0.51</text>
<text x="335" y="381.3" font-size="12.5">±</text>
<text x="344" y="381.3" font-size="12.5" textLength="22" lengthAdjust="spacingAndGlyphs">0.05</text>
<path d="M283.5 367.5H321.5V345" fill="none" stroke="#000" stroke-width="1" stroke-dasharray="3 2"/>
<path d="M249.6 389.6 L366.4 314.4" fill="none" stroke="#6a3a7a" stroke-width="1"/>
<path d="M247.6 387.6h4.4v4.4h-4.4z M286.6 358.0h4.4v4.4h-4.4z M325.4 328.6h4.4v4.4h-4.4z M364.6 312.6h4.4v4.4h-4.4z" fill="#5a2a66"/>
</svg>
</body></html>
